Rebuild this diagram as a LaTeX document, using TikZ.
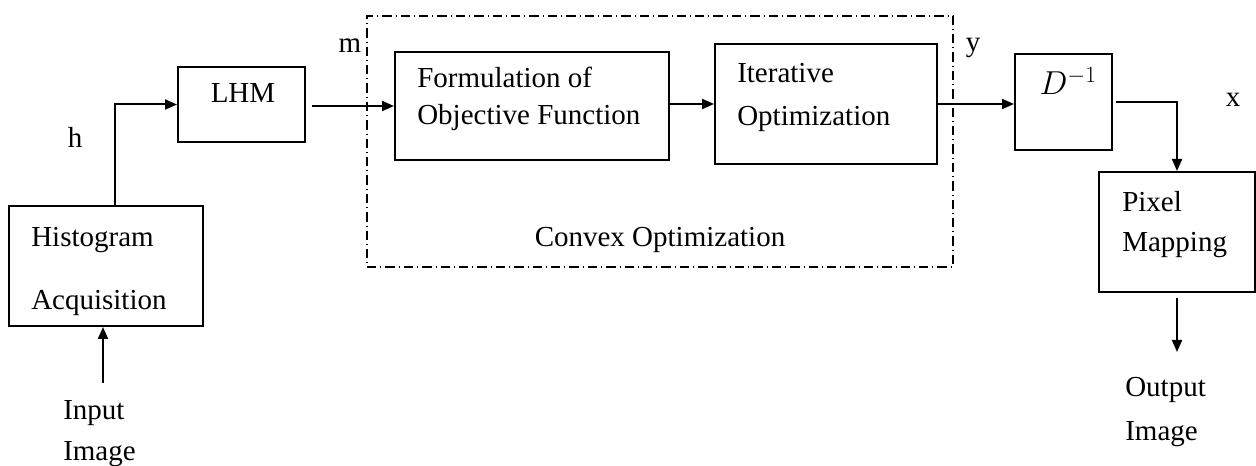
\documentclass[tikz,border=0pt]{standalone}
\usepackage{fontspec}
\setmainfont{Liberation Serif}
\usetikzlibrary{arrows.meta}
\begin{document}
\begin{tikzpicture}[x=0.75pt,y=-0.75pt,
  box/.style={draw, line width=1.5pt, inner sep=0pt},
  txt/.style={inner sep=0pt, font=\fontsize{21.75pt}{26pt}\selectfont},
  lbl/.style={txt, anchor=base west},
  arr/.style={line width=1.5pt, -{Triangle[length=9pt,width=7.5pt]}},
  convbox/.style={draw, line width=0.8pt, inner sep=0pt,
    dash pattern=on 7pt off 3pt on 0.8pt off 3pt}]
\useasboundingbox (0,0) rectangle (1256,466);
% boxes
\node[box, minimum width=145.5pt, minimum height=90pt] (hist) at (106,266) {};
\node[box, minimum width=95.25pt, minimum height=56.25pt] (lhm) at (241.5,104.5) {};
\node[box, minimum width=205.5pt, minimum height=81pt] (form) at (532,106) {};
\node[box, minimum width=166.5pt, minimum height=90pt] (iter) at (826,104) {};
\node[box, minimum width=72.75pt, minimum height=72pt] (dinv) at (1063.5,102) {};
\node[box, minimum width=117pt, minimum height=90pt] (pix) at (1177,232) {};
\node[convbox, minimum width=439.5pt, minimum height=188.25pt] (conv) at (660,141.5) {};
% texts
\node[lbl] (t1) at (31,247) {Histogram};
\node[lbl] (t2) at (31,310) {Acquisition};
\node[txt, anchor=base] (t3) at (243,103) {LHM};
\node[lbl] (t4) at (417,88) {Formulation of};
\node[lbl] (t5) at (417,125) {Objective Function};
\node[lbl] (t6) at (737,83) {Iterative};
\node[lbl] (t7) at (737,126) {Optimization};
\node[txt, anchor=base] (t8) at (660,247) {Convex Optimization};
\node[inner sep=0pt, font=\fontsize{27pt}{30pt}\selectfont] (t9) at (1068,81) {$D^{-1}$};
\node[lbl] (t10) at (1122,212) {Pixel};
\node[lbl] (t11) at (1122,252) {Mapping};
\node[lbl] (t12) at (63,419) {Input};
\node[lbl] (t13) at (63,460) {Image};
\node[lbl] (t14) at (1125,397) {Output};
\node[lbl] (t15) at (1125,440) {Image};
% signal labels
\node[txt] (lh) at (75,137) {h};
\node[txt] (lm) at (350,46) {m};
\node[txt] (ly) at (973,48) {y};
\node[txt] (lx) at (1233,100) {x};
% connectors
\coordinate (inTail) at (103,383);
\coordinate (hup) at (115,206);
\coordinate (outHead) at (1177,352);
\draw[arr] (inTail) -- (inTail |- hist.south);
\draw[arr] (hup) |- (lhm.west);
\draw[arr, shorten <=4.5pt] (lhm.east |- form.west) -- (form.west);
\draw[arr] (form.east |- iter.west) -- (iter.west);
\draw[arr] (iter.east) -- (iter.east -| dinv.west);
\draw[arr, shorten <=2.25pt] (dinv.east) -| (pix.north);
\draw[arr, shorten <=3.75pt] (pix.south) -- (outHead);
\end{tikzpicture}
\end{document}
